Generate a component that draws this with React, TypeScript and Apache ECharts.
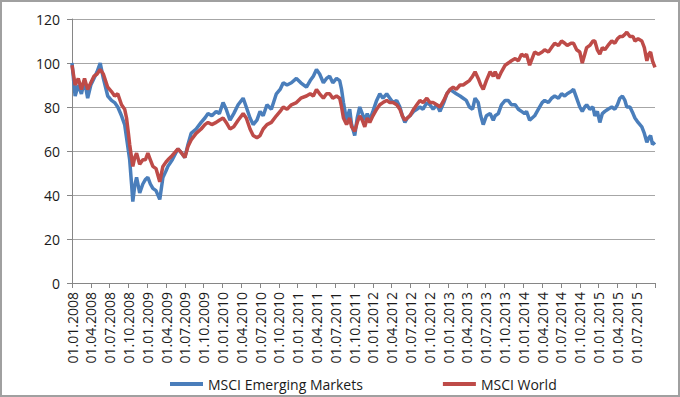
import React, { useEffect, useRef } from "react";
import * as echarts from "echarts";

// Month index since 01.01.2008 (0 = Jan 2008, 93 = Oct 2015)
const months = [
  0, 0.5, 1.0, 1.5, 2.0, 2.5, 3.0, 3.5, 4.0, 4.5, 5.0, 5.7, 6.3, 6.8, 7.3, 7.9, 8.4, 8.7, 9.0, 9.2,
  9.5, 9.7, 10.0, 10.3, 10.8, 11.3, 11.7, 12.1, 12.5, 12.9, 13.4, 14.0, 14.5, 15.0, 15.3, 16.0, 16.9, 17.5, 18.0, 18.5,
  19.0, 19.8, 20.6, 21.2, 21.7, 22.3, 23.0, 23.5, 24.1, 24.6, 25.2, 25.8, 26.5, 27.3, 27.8, 28.4, 28.9, 29.5, 30.0, 30.5,
  31.1, 31.8, 32.6, 33.2, 33.7, 34.3, 35.0, 35.8, 36.5, 37.4, 38.0, 38.5, 39.0, 39.5, 40.1, 40.6, 41.1, 41.6, 42.2, 42.7,
  43.0, 43.3, 43.8, 44.3, 44.6, 45.1, 45.5, 45.9, 46.3, 46.7, 47.1, 47.5, 48.0, 48.6, 49.1, 49.6, 50.2, 50.7, 51.2, 51.8,
  52.3, 52.7, 53.1, 53.5, 53.9, 54.5, 55.0, 55.5, 56.0, 56.6, 57.1, 57.6, 58.2, 58.7, 59.3, 59.8, 60.3, 60.8, 61.3, 61.9,
  62.4, 62.9, 63.4, 63.9, 64.3, 64.8, 65.2, 65.6, 66.1, 66.7, 67.2, 67.5, 68.0, 68.5, 69.1, 69.6, 70.1, 70.7, 71.2, 71.7,
  72.2, 72.5, 73.0, 73.4, 73.8, 74.4, 75.0, 75.4, 76.0, 76.5, 77.0, 77.6, 78.1, 78.6, 79.0, 79.6, 80.0, 80.5, 81.0, 81.4,
  81.8, 82.1, 82.6, 83.1, 83.4, 83.8, 84.2, 84.6, 85.0, 85.5, 86.1, 86.6, 87.0, 87.4, 87.8, 88.2, 88.5, 89.0, 89.5, 89.8,
  90.3, 90.9, 91.3, 91.7, 92.0, 92.3, 92.6, 93.0,
];

const emergingMarkets = [
  100, 85, 90, 86, 92, 84, 90, 93, 96, 100, 93, 85, 83, 82, 80, 76, 72, 66, 60, 56,
  45, 37, 44, 48, 41, 45, 47, 48, 45, 43, 42, 38, 48, 51, 53, 56, 61, 59, 57, 63,
  68, 70, 73, 75, 77, 76, 78, 77, 82, 79, 74, 77, 81, 84, 80, 75, 72, 74, 78, 76,
  81, 79, 86, 88, 91, 90, 91, 93, 91, 89, 92, 94, 97, 95, 91, 93, 94, 91, 93, 92,
  88, 82, 74, 79, 72, 67, 75, 80, 77, 74, 77, 74, 78, 83, 86, 84, 86, 84, 82, 83,
  80, 76, 73, 75, 76, 78, 79, 80, 79, 82, 81, 79, 81, 78, 82, 86, 88, 87, 86, 85,
  84, 83, 80, 79, 84, 82, 76, 72, 76, 77, 74, 76, 77, 81, 83, 83, 81, 81, 79, 78,
  77, 78, 74, 75, 76, 79, 82, 83, 82, 84, 85, 84, 86, 85, 86, 87, 88, 84, 80, 78,
  80, 81, 79, 80, 76, 78, 73, 77, 78, 79, 80, 79, 81, 84, 85, 83, 80, 80, 77, 75,
  73, 71, 68, 64, 66, 67, 63, 64,
];

const msciWorld = [
  99, 90, 93, 88, 93, 88, 91, 94, 95, 97, 95, 89, 87, 85, 86, 81, 79, 75, 68, 63,
  57, 53, 57, 59, 54, 56, 56, 59, 56, 53, 52, 46, 53, 55, 56, 58, 61, 59, 57, 62,
  65, 68, 70, 72, 73, 72, 73, 74, 75, 73, 70, 71, 74, 77, 75, 70, 67, 66, 67, 70,
  72, 73, 76, 78, 80, 79, 81, 82, 84, 85, 86, 85, 88, 86, 84, 86, 86, 84, 85, 84,
  80, 75, 72, 75, 71, 69, 73, 76, 74, 71, 75, 73, 76, 79, 81, 82, 83, 82, 82, 81,
  79, 76, 74, 75, 76, 79, 81, 83, 82, 84, 82, 82, 81, 80, 83, 86, 88, 89, 88, 90,
  90, 91, 92, 94, 96, 93, 90, 88, 92, 96, 94, 96, 93, 96, 99, 100, 101, 102, 101, 104,
  103, 104, 99, 102, 105, 104, 105, 106, 105, 107, 109, 108, 110, 109, 108, 109, 109, 106, 105, 100,
  104, 107, 108, 110, 110, 106, 104, 107, 106, 108, 110, 109, 111, 112, 112, 113, 114, 112, 112, 110,
  111, 110, 107, 101, 104, 105, 101, 98,
];

const seriesNames = ["MSCI Emerging Markets", "MSCI World"];
const yTicks = [0, 20, 40, 60, 80, 100, 120];

const FONT = "'Open Sans', 'DejaVu Sans', sans-serif";

function monthLabel(v: number): string {
  if (v >= 93) return "";
  const y = 2008 + Math.floor(v / 12);
  const m = (v % 12) + 1;
  return "01." + (m < 10 ? "0" + m : String(m)) + "." + y;
}

export default function App() {
  const ref = useRef<HTMLDivElement>(null);

  useEffect(() => {
    document.body.style.margin = "0";
    if (!ref.current) return;
    const chart = echarts.init(ref.current, undefined, { renderer: "svg" });
    const em = months.map((m, i) => [m, emergingMarkets[i]]);
    const w = months.map((m, i) => [m, msciWorld[i]]);
    chart.setOption({
      animation: false,
      backgroundColor: "#ffffff",
      textStyle: { fontFamily: FONT },
      grid: { left: 72, right: 25, top: 19, bottom: 114 },
      legend: {
        data: seriesNames,
        left: 165,
        top: 372,
        icon: "rect",
        itemWidth: 33,
        itemHeight: 4,
        itemGap: 80,
        textStyle: { fontFamily: FONT, fontSize: 14, color: "#1a1a1a" },
      },
      xAxis: {
        type: "value",
        min: 0,
        max: 93,
        interval: 3,
        splitLine: { show: false },
        axisLine: { show: true, lineStyle: { color: "#868686", width: 1 } },
        axisTick: { show: true, length: 5, lineStyle: { color: "#868686" } },
        axisLabel: {
          rotate: 90,
          margin: 9,
          fontFamily: FONT,
          fontSize: 14,
          color: "#1a1a1a",
          showMaxLabel: true,
          formatter: (v: number) => monthLabel(v),
        },
      },
      yAxis: {
        type: "value",
        min: yTicks[0],
        max: yTicks[yTicks.length - 1],
        interval: 20,
        axisLine: { show: true, lineStyle: { color: "#868686", width: 1 } },
        axisTick: { show: true, length: 5, lineStyle: { color: "#868686" } },
        splitLine: { show: true, lineStyle: { color: "#a6a6a6", width: 1 } },
        axisLabel: { margin: 12, fontFamily: FONT, fontSize: 14, color: "#1a1a1a" },
      },
      series: [
        {
          name: seriesNames[0],
          type: "line",
          data: em,
          showSymbol: false,
          color: "#4A7EBB",
          lineStyle: { width: 3.5, color: "#4A7EBB" },
        },
        {
          name: seriesNames[1],
          type: "line",
          data: w,
          showSymbol: false,
          color: "#BE4B48",
          lineStyle: { width: 3.5, color: "#BE4B48" },
        },
      ],
    });
    return () => chart.dispose();
  }, []);

  return (
    <div style={{ position: "relative", width: 680, height: 397 }}>
      <div ref={ref} style={{ width: 680, height: 397 }} />
      <div
        style={{
          position: "absolute",
          left: 0,
          top: 0,
          width: 680,
          height: 397,
          boxSizing: "border-box",
          border: "2px solid #a0a0a0",
          pointerEvents: "none",
        }}
      />
    </div>
  );
}
